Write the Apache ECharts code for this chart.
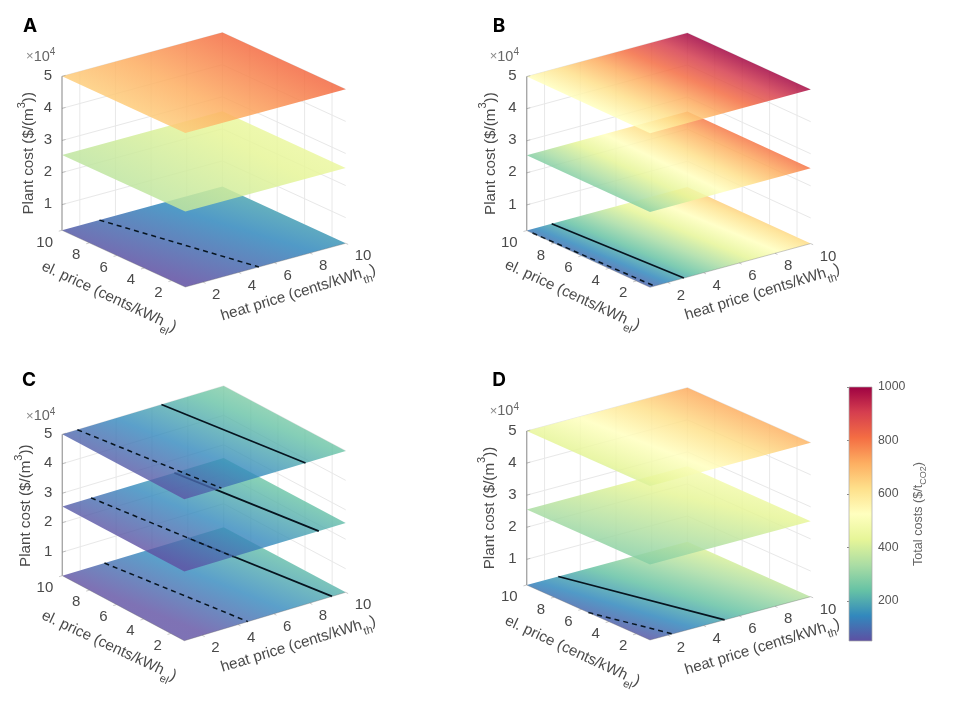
<!DOCTYPE html>
<html><head><meta charset="utf-8">
<script src="https://cdn.jsdelivr.net/npm/echarts@6/dist/echarts.min.js"></script>
<style>html,body{margin:0;padding:0;background:#fff}#c{width:954px;height:707px}</style>
</head><body><div id="c"></div>
<script>
// axis ticks
const heatTicks=[2,4,6,8,10];
const elTicks=[2,4,6,8,10];
const zTicks=[1,2,3,4,5];
const colorTicks=[200,400,600,800,1000];
const heatRange=[1,10], elRange=[1,10], zRange=[0.2,5];
const colorRange=[50,1000];
const planeZ=[0.2,2.55,5];
// total costs at plane corners: [front(h1,e1), right(h10,e1), left(h1,e10), back(h10,e10)]
const A_low=[42,170,70,195], A_mid=[375,445,360,450], A_top=[665,815,650,815];
const B_low=[85,630,115,660], B_mid=[300,790,270,800], B_top=[525,980,520,1000];
const C_low=[24,216,50,242], C_mid=[42,232,66,256], C_top=[56,248,82,274];
const D_low=[57,365,130,420], D_mid=[280,440,335,490], D_top=[405,710,440,715];
// cost contours as [heat, el] end points
const A_dash=[[[3.1,10],[5.13,1]],[],[]], A_solid=[[],[],[]];
const B_dash=[[[1.02,9.6],[1.25,1]],[],[]], B_solid=[[[2.4,10],[2.9,1]],[],[]];
const C_dash=[[[3.35,10],[4.55,1]],[[2.6,10],[3.74,1]],[[1.84,10],[3.07,1]]];
const C_solid=[[[8.0,10],[9.24,1]],[[7.25,10],[8.5,1]],[[6.53,10],[7.76,1]]];
const D_dash=[[[1,5.5],[2.26,1]],[],[]], D_solid=[[[2.77,10],[5.18,1]],[],[]];
const spectral=['#5e4fa2','#3288bd','#66c2a5','#abdda4','#e6f598','#ffffbf','#fee08b','#fdae61','#f46d43','#d53e4f','#9e0142'];

const panels=[
 {n:'A',fx:185.3,fy:287,hx:160.4,hy:43.7,ex:123.3,ey:56.7,zh:154,low:A_low,mid:A_mid,top:A_top,dash:A_dash,solid:A_solid,lh:[113,6],le:[-76.3,9.7],ly:[-33,-77],mult:[40.7,56.7],letter:[30,26],alpha:.85},
 {n:'B',fx:650,fy:287.3,hx:160.7,hy:43.7,ex:123.3,ey:56.7,zh:154,low:B_low,mid:B_mid,top:B_top,dash:B_dash,solid:B_solid,lh:[112.4,5],le:[-77.6,7.7],ly:[-36,-77],mult:[504.3,56.7],letter:[499,26],alpha:.85},
 {n:'C',fx:184.3,fy:640.7,hx:161.4,hy:48.4,ex:122,ey:65,zh:141.4,low:C_low,mid:C_mid,top:C_top,dash:C_dash,solid:C_solid,lh:[114,3.6],le:[-75.3,5],ly:[-36,-70],mult:[40.7,416],letter:[29,380],alpha:.8},
 {n:'D',fx:650,fy:640,hx:160.7,hy:43.3,ex:123.3,ey:55,zh:154,low:D_low,mid:D_mid,top:D_top,dash:D_dash,solid:D_solid,lh:[112.4,7],le:[-77.6,11],ly:[-37,-77],mult:[504.3,411],letter:[499,380],alpha:.85}
];
const norm=(v,r)=>(v-r[0])/(r[1]-r[0]);
const proj=(P,h,e,z)=>{const a=norm(h,heatRange),b=norm(e,elRange),c=norm(z,zRange);
  return [a*P.hx+(1-b)*P.ex, a*P.hy+b*P.ey+c*P.zh];};
const stops=spectral.map((color,i)=>({offset:i/(spectral.length-1),color}));
const LG=echarts.graphic.LinearGradient;

const grids=[],xAxes=[],yAxes=[],series=[],graphics=[];
const TXT='#4a4a4a';
panels.forEach((P,pi)=>{
  const W=P.hx+P.ex,H=P.hy+P.ey+P.zh;
  grids.push({left:P.fx-P.ex,top:P.fy-H,width:W,height:H,show:false});
  xAxes.push({type:'value',gridIndex:pi,min:0,max:W,show:false});
  yAxes.push({type:'value',gridIndex:pi,min:0,max:H,show:false});
  const axisRef={coordinateSystem:'cartesian2d',xAxisIndex:pi,yAxisIndex:pi,silent:true,animation:false,clip:false};
  const [h0,h1]=heatRange,[e0,e1]=elRange,[z0,z1]=zRange;
  // wall grid lines
  const walls=[];
  heatTicks.forEach(h=>walls.push([h,e1,z0,h,e1,z1]));
  elTicks.forEach(e=>{if(e<e1)walls.push([h1,e,z0,h1,e,z1]);});
  zTicks.forEach(z=>{walls.push([h0,e1,z,h1,e1,z]);walls.push([h1,e1,z,h1,e0,z]);});
  const seg=(params,api)=>{const a=api.coord(proj(P,api.value(0),api.value(1),api.value(2))),
      b=api.coord(proj(P,api.value(3),api.value(4),api.value(5)));
      return {type:'line',shape:{x1:a[0],y1:a[1],x2:b[0],y2:b[1]},style:{stroke:'#e8e8e8',lineWidth:1}};};
  series.push({type:'custom',...axisRef,z:2,data:walls,renderItem:seg,encode:{x:0,y:1}});
  // planes and contours
  [P.low,P.mid,P.top].forEach((c,li)=>{
    const z=planeZ[li];
    series.push({type:'custom',...axisRef,z:3+li*3,data:[[z,...c]],encode:{x:0,y:1},renderItem:(params,api)=>{
      const pt=(h,e)=>api.coord(proj(P,h,e,api.value(0)));
      const F=pt(h0,e0),R=pt(h1,e0),L=pt(h0,e1),B=pt(h1,e1);
      const vF=api.value(1),vR=api.value(2),vL=api.value(3),vB=api.value(4);
      const dH=((vR-vF)+(vB-vL))/2,dE=((vL-vF)+(vB-vR))/2,vC=(vF+vR+vL+vB)/4;
      const hvx=R[0]-F[0],hvy=R[1]-F[1],evx=L[0]-F[0],evy=L[1]-F[1],det=hvx*evy-evx*hvy;
      // value gradient in screen space
      const gx=(dH*evy-dE*hvy)/det,gy=(dE*hvx-dH*evx)/det,g2=gx*gx+gy*gy;
      const cx=(F[0]+B[0])/2,cy=(F[1]+B[1])/2;
      const x0=cx-gx*(vC-colorRange[0])/g2,y0=cy-gy*(vC-colorRange[0])/g2;
      const x1=cx+gx*(colorRange[1]-vC)/g2,y1=cy+gy*(colorRange[1]-vC)/g2;
      return {type:'polygon',shape:{points:[F,R,B,L]},style:{fill:new LG(x0,y0,x1,y1,stops,true),opacity:P.alpha}};
    }});
    const addLine=(pts,dashed)=>{ if(!pts.length)return;
      series.push({type:'line',xAxisIndex:pi,yAxisIndex:pi,silent:true,animation:false,clip:false,z:4+li*3,showSymbol:false,
        data:pts.map(p=>proj(P,p[0],p[1],z)),
        lineStyle:{color:'#06141f',width:dashed?1.5:1.7,type:dashed?[5,4]:'solid'}});};
    addLine(P.dash[li],true);addLine(P.solid[li],false);
  });
  // front edges, z axis and tick marks
  const edges=[[h0,e0,z0,h1,e0,z0,1],[h0,e0,z0,h0,e1,z0,1],[h0,e1,z0,h0,e1,z1,2]];
  heatTicks.forEach(h=>edges.push([h,e0,z0,h,e0-.18,z0,1]));
  elTicks.forEach(e=>edges.push([h0,e,z0,h0-.18,e,z0,1]));
  zTicks.forEach(z=>edges.push([h0,e1,z,h0+.2,e1,z,1]));
  series.push({type:'custom',...axisRef,z:20,data:edges,encode:{x:0,y:1},renderItem:(params,api)=>{
    const a=api.coord(proj(P,api.value(0),api.value(1),api.value(2))),b=api.coord(proj(P,api.value(3),api.value(4),api.value(5)));
    const k=api.value(6);
    return {type:'line',shape:{x1:a[0],y1:a[1],x2:b[0],y2:b[1]},style:{stroke:k==2?'#a8a8a8':'#666',lineWidth:k==2?1.4:.7,opacity:k==2?1:.5}};
  }});
  // tick labels
  const labels=[];
  heatTicks.forEach(h=>labels.push([h,e0,z0,h,0]));
  elTicks.forEach(e=>labels.push([h0,e,z0,e,1]));
  zTicks.forEach(z=>labels.push([h0,e1,z,z,2]));
  series.push({type:'custom',...axisRef,z:21,data:labels,encode:{x:0,y:1},renderItem:(params,api)=>{
    const a=api.coord(proj(P,api.value(0),api.value(1),api.value(2))),k=api.value(4);
    const off=[[9,13,'left'],[-9,12.2,'right'],[-10,-.5,'right']][k];
    return {type:'text',x:a[0]+off[0],y:a[1]+off[1],style:{text:String(api.value(3)),fill:TXT,fontFamily:'Liberation Sans',fontSize:15,align:off[2],verticalAlign:'middle'}};
  }});
  // axis titles, exponent and panel letter
  const main={fontFamily:'Liberation Sans',fontSize:15.2,fill:TXT,lineHeight:26};
  const rich={a:main,s:{fontFamily:'Liberation Sans',fontSize:11,fill:TXT,verticalAlign:'bottom',lineHeight:26},u:{fontFamily:'Liberation Sans',fontSize:11,fill:TXT,verticalAlign:'top',lineHeight:26}};
  const text=(x,y,rot,str,r)=>graphics.push({type:'text',x,y,rotation:rot,silent:true,z:30,style:{text:str,rich:r||rich,align:'center',verticalAlign:'middle'}});
  const rad=d=>d*Math.PI/180;
  text(P.fx+P.lh[0],P.fy+P.lh[1],rad(17),'{a|heat price (cents/kWh}{s|th}{a|)}');
  text(P.fx+P.le[0],P.fy+P.le[1],rad(-25),'{a|el. price (cents/kWh}{s|el}{a|)}');
  text(P.fx-P.ex+P.ly[0],P.fy-P.ey+P.ly[1],rad(90),'{a|Plant cost ($/(m}{u|3}{a|))}');
  text(P.mult[0],P.mult[1],0,'{x|×}{m|10}{n|4}',{x:{fontFamily:'Liberation Sans',fontSize:13,fill:'#8a8a8a',lineHeight:18},m:{fontFamily:'Liberation Sans',fontSize:14.5,fill:'#666',lineHeight:18},n:{fontFamily:'Liberation Sans',fontSize:10,fill:'#666',verticalAlign:'top',lineHeight:18}});
  graphics.push({type:'text',x:P.letter[0],y:P.letter[1],silent:true,z:30,style:{text:P.n,fontFamily:'Inter',fontWeight:700,fontSize:19,fill:'#000',align:'center',verticalAlign:'middle'}});
});
// colour bar
grids.push({left:849,top:387,width:23,height:254,show:false});
xAxes.push({type:'value',gridIndex:4,min:0,max:1,show:false});
yAxes.push({type:'value',gridIndex:4,position:'right',min:colorRange[0],max:colorRange[1],
  axisLine:{show:false},splitLine:{show:false},
  axisTick:{inside:true,length:2,customValues:colorTicks,lineStyle:{color:'#555',width:.7}},
  axisLabel:{customValues:colorTicks,margin:6,color:'#555',fontFamily:'Liberation Sans',fontSize:12.3,formatter:v=>String(v)},
  name:'Total costs ($/t{s|CO2})',nameLocation:'middle',nameRotate:90,nameGap:38,
  nameTextStyle:{color:'#666',fontFamily:'Liberation Sans',fontSize:12.6,rich:{s:{fontSize:9,color:'#666',fontFamily:'Liberation Sans',verticalAlign:'bottom',lineHeight:18}}}});
series.push({type:'custom',coordinateSystem:'cartesian2d',xAxisIndex:4,yAxisIndex:4,silent:true,animation:false,data:[[0,colorRange[0],1,colorRange[1]]],encode:{x:0,y:1},
  renderItem:(params,api)=>{const a=api.coord([api.value(0),api.value(1)]),b=api.coord([api.value(2),api.value(3)]);
    return {type:'rect',shape:{x:a[0],y:b[1],width:b[0]-a[0],height:a[1]-b[1]},style:{fill:new LG(0,1,0,0,stops),stroke:'#aaa',lineWidth:.7}};}});
echarts.init(document.getElementById('c'),null,{renderer:'canvas'}).setOption({animation:false,backgroundColor:'#fff',grid:grids,xAxis:xAxes,yAxis:yAxes,series,graphic:graphics});
</script></body></html>
